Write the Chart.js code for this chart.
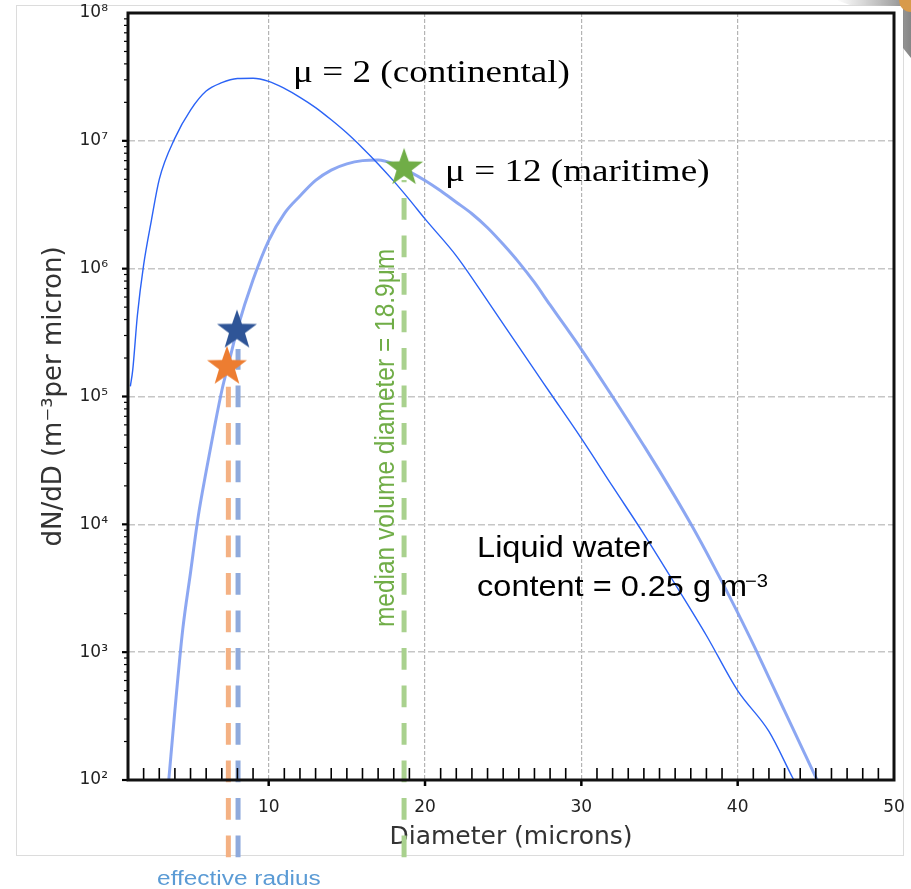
<!DOCTYPE html>
<html>
<head>
<meta charset="utf-8">
<script src="https://cdn.jsdelivr.net/npm/chart.js@4.4.1/dist/chart.umd.min.js"></script>
<style>
	html, body { margin: 0; padding: 0; background: #fff; }
	#dsd-chart { display: block; }
</style>
</head>
<body>
<canvas id="dsd-chart" width="911" height="889"></canvas>
<script>
// Cloud droplet size distributions (dN/dD in m^-3 per micron)
var contDiameter = [1.15, 1.3, 1.6, 2, 2.5, 3, 4, 5, 6, 7, 8, 9, 10, 11, 12, 13, 14, 15, 16, 17, 18, 19, 20,
                    22, 24, 26, 28, 30, 32, 34, 36, 38, 40, 42, 43.5, 44];
var contDensity  = [1.2e5, 1.6e5, 4.3e5, 1.07e6, 2.4e6, 5.0e6, 1.05e7, 1.74e7, 2.45e7, 2.85e7, 3.07e7, 3.09e7, 2.92e7,
                    2.57e7, 2.19e7, 1.82e7, 1.46e7, 1.15e7, 8.8e6, 6.6e6, 4.84e6, 3.47e6, 2.45e6,
                    1.26e6, 5.6e5, 2.44e5, 1.07e5, 4.7e4, 1.98e4, 8.4e3, 3.4e3, 1.35e3, 500, 240, 105, 80];

var mariDiameter = [3.5, 4, 4.5, 5, 5.5, 6, 6.5, 7, 7.5, 8, 9, 10, 11, 12, 13, 14, 15, 16, 17, 18, 19, 20,
                    21, 22, 23, 24, 25, 26, 27, 28, 29, 30, 31, 32, 33, 34, 35, 36, 37, 38, 39, 40,
                    41, 42, 43, 44, 45, 45.5];
var mariDensity  = [70, 350, 1.5e3, 4.2e3, 1.17e4, 2.6e4, 5.5e4, 1.11e5, 1.95e5, 3.4e5, 8.2e5, 1.66e6,
                    2.7e6, 3.7e6, 4.9e6, 5.9e6, 6.6e6, 7.0e6, 7.08e6, 6.6e6, 5.75e6, 4.9e6,
                    4.07e6, 3.31e6, 2.69e6, 2.09e6, 1.55e6, 1.12e6, 7.8e5, 5.2e5, 3.5e5, 2.34e5,
                    1.53e5, 9.95e4, 6.43e4, 4.12e4, 2.62e4, 1.64e4, 1.01e4, 6.05e3, 3.55e3, 2.04e3,
                    1.15e3, 631, 347, 191, 105, 79];

// stars: effective radius (mu=2), effective radius (mu=12), median volume diameter
var starDiameter = [7.33, 7.97, 18.66];
var starDensity  = [1.71e5, 3.28e5, 6.15e6];
var starColors   = ['#ed7d31', '#2f5597', '#70ad47'];

// dashed guide lines dropping from the stars
var guideDiameter = [7.42, 8.04, 18.66];
var guideTop      = [1.19e5, 2.35e5, 4.93e6];
var guideBottom   = 24.9;
var guideColors   = ['#f4b183', '#8faadc', '#a9d18e'];

var xTicks = [10, 20, 30, 40, 50];
var yTicks = [1e2, 1e3, 1e4, 1e5, 1e6, 1e7, 1e8];
var yTickLabels = ['10²', '10³', '10⁴', '10⁵', '10⁶', '10⁷', '10⁸'];


function makeStar(color, R) {
	// filled five point star, used as a point image
	var size = Math.ceil(2 * R + 2);
	var c = document.createElement('canvas');
	c.width = size;
	c.height = size;
	var g = c.getContext('2d');
	var cx = size / 2, cy = size / 2, r = R * 0.4;
	g.beginPath();
	for (var k = 0; k < 10; k++) {
		var rad = (k % 2 === 0) ? R : r;
		var ang = -Math.PI / 2 + k * Math.PI / 5;
		g.lineTo(cx + rad * Math.cos(ang), cy + rad * Math.sin(ang));
	}
	g.closePath();
	g.fillStyle = color;
	g.fill();
	return c;
}

function toXY(xs, ys) {
	return xs.map(function(x, i) { return { x: x, y: ys[i] }; });
}

function stretchedText(ctx, text, x, y, font, color, sx) {
	ctx.save();
	ctx.translate(x, y);
	ctx.scale(sx, 1);
	ctx.font = font;
	ctx.fillStyle = color;
	ctx.textBaseline = 'alphabetic';
	ctx.textAlign = 'left';
	ctx.fillText(text, 0, 0);
	var w = ctx.measureText(text).width * sx;
	ctx.restore();
	return w;
}

var framePlugin = {
	id: 'frame',
	beforeDraw: function(chart) {
		var ctx = chart.ctx;
		ctx.save();
		// faint outline of the pasted figure
		ctx.strokeStyle = '#dcdcdc';
		ctx.lineWidth = 1;
		ctx.strokeRect(16.5, 5.5, 887, 850);
		// shadow in the top right corner
		var grad = ctx.createLinearGradient(836, 0, 911, 0);
		grad.addColorStop(0, 'rgba(140,140,140,0)');
		grad.addColorStop(1, 'rgba(120,120,120,0.9)');
		ctx.fillStyle = grad;
		ctx.beginPath();
		ctx.moveTo(836, 0); ctx.lineTo(911, 0); ctx.lineTo(911, 58);
		ctx.lineTo(903, 48); ctx.lineTo(903, 6); ctx.lineTo(850, 5);
		ctx.closePath();
		ctx.fill();
		ctx.fillStyle = '#d89a4a';
		ctx.beginPath();
		ctx.arc(911, 0, 12, Math.PI / 2, Math.PI);
		ctx.lineTo(911, 0);
		ctx.fill();
		ctx.restore();
	},
	afterDatasetsDraw: function(chart) {
		var ctx = chart.ctx, a = chart.chartArea;
		var xs = chart.scales.x, ys = chart.scales.y;
		ctx.save();

		// tick marks: minor ones inside on the x axis, all outside on the y axis
		ctx.strokeStyle = '#000';
		for (var d = 2; d < 50; d++) {
			var px = xs.getPixelForValue(d);
			ctx.beginPath();
			if (d % 10 === 0) {
				ctx.lineWidth = 2.5;
				ctx.moveTo(px, a.bottom); ctx.lineTo(px, a.bottom + 6);
			} else {
				ctx.lineWidth = 1.6;
				ctx.moveTo(px, a.bottom); ctx.lineTo(px, a.bottom - 12);
			}
			ctx.stroke();
		}
		for (var n = 2; n < 8; n++) {
			for (var k = 1; k < 10; k++) {
				var py = ys.getPixelForValue(k * Math.pow(10, n));
				ctx.beginPath();
				ctx.lineWidth = (k === 1) ? 2.2 : 1.2;
				ctx.moveTo(a.left, py); ctx.lineTo(a.left - (k === 1 ? 6 : 4), py);
				ctx.stroke();
			}
		}
		// plot frame
		ctx.lineWidth = 3;
		ctx.strokeStyle = '#111';
		ctx.strokeRect(a.left, a.top, a.right - a.left, a.bottom - a.top);

		// annotations, anchored in data space
		var p;
		p = [xs.getPixelForValue(11.56), ys.getPixelForValue(2.88e7)];
		stretchedText(ctx, 'μ = 2 (continental)', p[0], p[1], '32px "Liberation Serif"', '#000', 1.16);
		p = [xs.getPixelForValue(21.28), ys.getPixelForValue(4.84e6)];
		stretchedText(ctx, 'μ = 12 (maritime)', p[0], p[1], '32px "Liberation Serif"', '#000', 1.16);

		p = [xs.getPixelForValue(23.33), ys.getPixelForValue(5.53e3)];
		stretchedText(ctx, 'Liquid water', p[0], p[1], '29px "Liberation Sans"', '#000', 1.12);
		var w = stretchedText(ctx, 'content = 0.25 g m', p[0], p[1] + 39, '29px "Liberation Sans"', '#000', 1.12);
		stretchedText(ctx, '−3', p[0] + w - 2, p[1] + 30, '18px "Liberation Sans"', '#000', 1.12);

		p = [xs.getPixelForValue(2.86), ys.getPixelForValue(15.0)];
		stretchedText(ctx, 'effective radius', p[0], p[1], '20px "Liberation Sans"', '#5b9bd5', 1.22);

		p = [xs.getPixelForValue(18.02), ys.getPixelForValue(1.57e3)];
		ctx.translate(p[0], p[1]);
		ctx.rotate(-Math.PI / 2);
		ctx.scale(1, 1.12);
		ctx.font = '24.5px "Liberation Sans"';
		ctx.fillStyle = '#70ad47';
		ctx.textBaseline = 'alphabetic';
		ctx.fillText('median volume diameter = 18.9μm', 0, 0);
		ctx.restore();
	}
};


var datasets = [
	{	label: 'stars',
		data: toXY(starDiameter, starDensity),
		showLine: false,
		pointStyle: starColors.map(function(c, i) { return makeStar(c, i === 2 ? 20 : 21); }),
		pointRadius: 20,
		clip: false
	},
	{	label: 'mu = 2 (continental)',
		data: toXY(contDiameter, contDensity),
		borderColor: '#2b63f6',
		borderWidth: 1.4,
		pointRadius: 0,
		cubicInterpolationMode: 'monotone'
	},
	{	label: 'mu = 12 (maritime)',
		data: toXY(mariDiameter, mariDensity),
		borderColor: 'rgba(120,152,240,0.85)',
		borderWidth: 3,
		pointRadius: 0,
		cubicInterpolationMode: 'monotone'
	}
];
guideDiameter.forEach(function(g, i) {
	datasets.push({
		label: 'guide ' + i,
		data: [ { x: g, y: guideBottom }, { x: g, y: guideTop[i] } ],
		borderColor: guideColors[i],
		borderWidth: 5,
		borderDash: [21.7, 15.8],
		borderCapStyle: 'butt',
		pointRadius: 0,
		clip: false
	});
});

var tickFont = { family: 'DejaVu Sans', size: 17 };

new Chart(document.getElementById('dsd-chart'), {
	type: 'line',
	data: { datasets: datasets },
	options: {
		responsive: false,
		animation: false,
		events: [],
		layout: { autoPadding: false, padding: { left: 0, right: 17, top: 13, bottom: 0 } },
		plugins: {
			legend: { display: false },
			tooltip: { enabled: false }
		},
		scales: {
			x: {
				type: 'linear',
				min: 1, max: 50,
				afterBuildTicks: function(s) { s.ticks = xTicks.map(function(v) { return { value: v }; }); },
				afterFit: function(s) {
					s.height = 109;
					s.paddingLeft = 0; s.paddingRight = 0; s.paddingTop = 0; s.paddingBottom = 0;
				},
				grid: { color: '#b4b4b4', lineWidth: 1.2, drawTicks: false, tickLength: 0 },
				border: { display: false, dash: [4, 2] },
				ticks: { padding: 17, font: tickFont, color: '#222', maxRotation: 0, autoSkip: false,
				         callback: function(v) { return String(v); } },
				title: { display: true, text: 'Diameter (microns)', color: '#333',
				         font: { family: 'DejaVu Sans', size: 25 }, padding: { top: 0, bottom: 37 } }
			},
			y: {
				type: 'logarithmic',
				min: 1e2, max: 1e8,
				afterBuildTicks: function(s) { s.ticks = yTicks.map(function(v) { return { value: v }; }); },
				afterFit: function(s) {
					s.width = 128;
					s.paddingLeft = 0; s.paddingRight = 0; s.paddingTop = 0; s.paddingBottom = 0;
				},
				grid: { color: '#c6c6c6', lineWidth: 1.5, drawTicks: false, tickLength: 0 },
				border: { display: false, dash: [7, 3] },
				ticks: { padding: 20, font: tickFont, color: '#222', autoSkip: false,
				         callback: function(v) {
				             var i = yTicks.findIndex(function(t) { return Math.abs(Math.log10(t) - Math.log10(v)) < 1e-6; });
				             return i < 0 ? '' : yTickLabels[i];
				         } },
				title: { display: true, text: 'dN/dD (m⁻³per micron)', color: '#333',
				         font: { family: 'DejaVu Sans', size: 26 }, padding: { top: 39, bottom: 0 } }
			}
		}
	},
	plugins: [framePlugin]
});
</script>
</body>
</html>
